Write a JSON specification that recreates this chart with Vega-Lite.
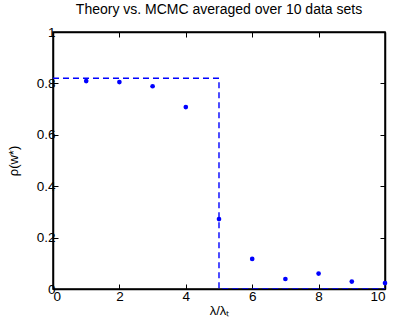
{
  "$schema": "https://vega.github.io/schema/vega-lite/v6.json",
  "autosize": "none",
  "width": 332,
  "height": 257,
  "padding": {"left": 53, "top": 32, "right": 8, "bottom": 33},
  "background": "white",
  "title": {"text": "Theory vs. MCMC averaged over 10 data sets", "font": "Liberation Sans", "fontSize": 14, "fontWeight": "normal", "color": "black", "offset": 8},
  "config": {
    "view": {"stroke": "black", "strokeWidth": 1.5},
    "axis": {"grid": false, "labelFont": "Liberation Sans", "labelFontSize": 13.5, "labelColor": "black", "titleFont": "Liberation Sans", "titleFontSize": 13, "titleFontWeight": "normal", "titleColor": "black", "domainColor": "black", "domainWidth": 1.5, "tickColor": "black"}
  },
  "datasets": {
    "theory": [
      {"x": 0, "y": 0.82, "o": 1},
      {"x": 5, "y": 0.82, "o": 2},
      {"x": 5, "y": 0, "o": 3},
      {"x": 10, "y": 0, "o": 4}
    ],
    "mcmc": [
      {"x": 1, "y": 0.809},
      {"x": 2, "y": 0.805},
      {"x": 3, "y": 0.789},
      {"x": 4, "y": 0.708},
      {"x": 5, "y": 0.272},
      {"x": 6, "y": 0.117},
      {"x": 7, "y": 0.039},
      {"x": 8, "y": 0.06},
      {"x": 9, "y": 0.029},
      {"x": 10, "y": 0.023}
    ]
  },
  "layer": [
    {
      "layer": [
        {
          "data": {"name": "theory"},
          "mark": {"type": "line", "color": "#0000ff", "strokeWidth": 1.4, "strokeDash": [6, 4], "clip": true},
          "encoding": {
            "x": {"field": "x", "type": "quantitative", "scale": {"domain": [0, 10], "nice": false, "zero": false},
              "axis": {"title": "λ/λₜ", "values": [0, 2, 4, 6, 8, 10], "tickSize": -5, "labelPadding": 5, "titlePadding": 2}},
            "y": {"field": "y", "type": "quantitative", "scale": {"domain": [0, 1], "nice": false},
              "axis": {"title": "ρ(w*)", "values": [0, 0.2, 0.4, 0.6, 0.8, 1], "format": "~g", "tickSize": -5, "labelPadding": 3, "titlePadding": 16}},
            "order": {"field": "o"}
          }
        },
        {
          "data": {"name": "mcmc"},
          "mark": {"type": "point", "filled": true, "color": "#0000ff", "opacity": 1, "size": 22},
          "encoding": {
            "x": {"field": "x", "type": "quantitative"},
            "y": {"field": "y", "type": "quantitative"}
          }
        }
      ]
    },
    {
      "data": {"name": "mcmc"},
      "mark": {"type": "rule", "opacity": 0},
      "encoding": {
        "x": {"field": "x", "type": "quantitative", "scale": {"domain": [0, 10], "nice": false, "zero": false}, "axis": {"orient": "top", "values": [0, 2, 4, 6, 8, 10], "labels": false, "title": null, "tickSize": -5}},
        "y": {"field": "y", "type": "quantitative", "scale": {"domain": [0, 1], "nice": false}, "axis": {"orient": "right", "values": [0, 0.2, 0.4, 0.6, 0.8, 1], "labels": false, "title": null, "tickSize": -5}}
      }
    }
  ],
  "resolve": {"axis": {"x": "independent", "y": "independent"}}
}
